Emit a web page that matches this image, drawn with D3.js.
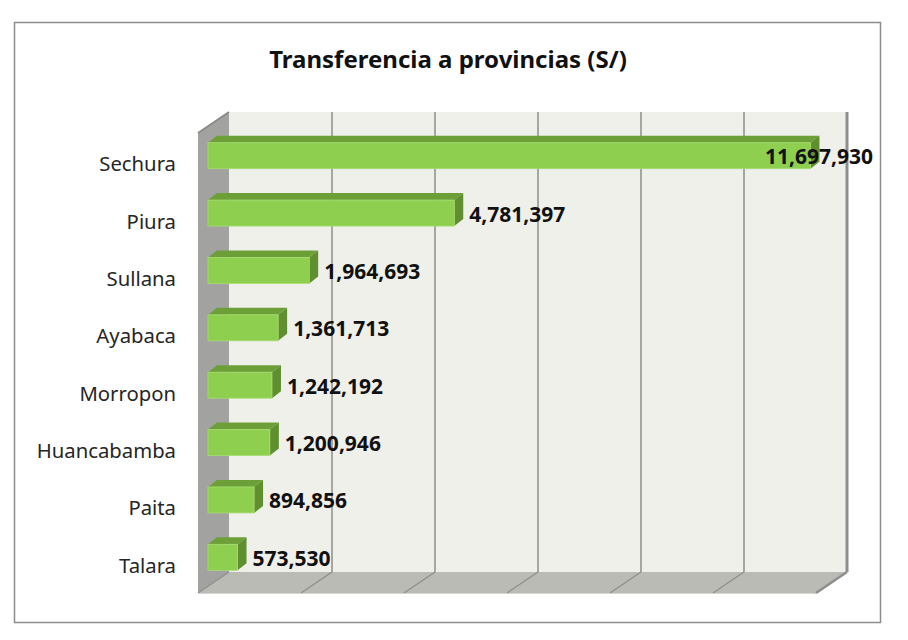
<!DOCTYPE html>
<html>
<head>
<meta charset="utf-8">
<script src="https://cdn.jsdelivr.net/npm/d3@7"></script>
<style>
  body { margin: 0; background: #fff; }
  text { font-family: "Noto Sans", "Open Sans", sans-serif; }
</style>
</head>
<body>
<div id="chart"></div>
<script>
var CATEGORIES = ["Sechura", "Piura", "Sullana", "Ayabaca", "Morropon", "Huancabamba", "Paita", "Talara"];
var VALUES = [11697930, 4781397, 1964693, 1361713, 1242192, 1200946, 894856, 573530];
var TICKS = [0, 2000000, 4000000, 6000000, 8000000, 10000000, 12000000];
var TITLE = "Transferencia a provincias (S/)";

var W = 908, H = 640;

// depth offset of the walls (front -> back)
var dX = 31, dY = -21;
// depth offset of each bar (front face -> top/back)
var bX = 9, bY = -7;

var svg = d3.select("#chart").append("svg")
    .attr("width", W)
    .attr("height", H);

// outer chart border
svg.append("rect")
    .attr("x", 14.5).attr("y", 22.5)
    .attr("width", 866).attr("height", 600)
    .attr("fill", "#fff")
    .attr("stroke", "#8c8c8c")
    .attr("stroke-width", 1.5);

svg.append("text")
    .attr("x", 448).attr("y", 68)
    .attr("text-anchor", "middle")
    .attr("font-size", 24)
    .attr("font-weight", "bold")
    .attr("fill", "#111")
    .text(TITLE);

// scales on the bars' front plane
var x = d3.scaleLinear().domain([0, 12000000]).range([208, 826]);
var y = d3.scaleBand().domain(CATEGORIES).range([134, 593]);

// front plane of the walls
var fx0 = 198, fyTop = 133, fyBot = 593;
function wx(v) { return x(v) - 10; }   // value -> front wall plane x
var fx1 = wx(12000000);

// back wall
svg.append("rect")
    .attr("x", fx0 + dX).attr("y", fyTop + dY)
    .attr("width", fx1 - fx0).attr("height", fyBot - fyTop)
    .attr("fill", "#eff0ea");

// side wall
svg.append("path")
    .attr("d", "M" + fx0 + "," + fyTop + "L" + (fx0 + dX) + "," + (fyTop + dY) +
        "L" + (fx0 + dX) + "," + (fyBot + dY) + "L" + fx0 + "," + fyBot + "Z")
    .attr("fill", "#a2a3a0");
svg.append("path")
    .attr("d", "M" + fx0 + "," + fyTop + "L" + (fx0 + dX) + "," + (fyTop + dY))
    .attr("stroke", "#8a8b88").attr("stroke-width", 2);

// floor
svg.append("path")
    .attr("d", "M" + fx0 + "," + fyBot + "L" + fx1 + "," + fyBot +
        "L" + (fx1 + dX) + "," + (fyBot + dY) + "L" + (fx0 + dX) + "," + (fyBot + dY) + "Z")
    .attr("fill", "#babbb5");

// gridlines on back wall and floor
svg.selectAll("line.grid")
    .data(TICKS.slice(1))
    .enter().append("line")
    .attr("class", "grid")
    .attr("x1", function (d) { return wx(d) + dX; })
    .attr("x2", function (d) { return wx(d) + dX; })
    .attr("y1", fyTop + dY)
    .attr("y2", fyBot + dY)
    .attr("stroke", "#8e8e8e")
    .attr("stroke-width", function (d, i) { return i == TICKS.length - 2 ? 3 : 1.5; });

svg.selectAll("line.fgrid")
    .data(TICKS)
    .enter().append("line")
    .attr("class", "fgrid")
    .attr("x1", function (d) { return wx(d) + dX; })
    .attr("x2", function (d) { return wx(d); })
    .attr("y1", fyBot + dY)
    .attr("y2", fyBot)
    .attr("stroke", "#8e8e8e")
    .attr("stroke-width", function (d, i) { return i == TICKS.length - 1 ? 2.5 : 1.3; });

// floor front edge
svg.append("line")
    .attr("x1", fx0).attr("x2", fx1)
    .attr("y1", fyBot + 0.5).attr("y2", fyBot + 0.5)
    .attr("stroke", "#d4d5d0").attr("stroke-width", 1);

// bars
var barH = 26;
function barTop(d) { return y(d) + y.bandwidth() / 2 - 7 - barH / 2; }

var bars = svg.selectAll("g.bar")
    .data(CATEGORIES)
    .enter().append("g")
    .attr("class", "bar");

// top face
bars.append("path")
    .attr("d", function (d, i) {
        var x0 = x(0), x1 = x(VALUES[i]), t = barTop(d);
        return "M" + x0 + "," + t + "L" + (x0 + bX) + "," + (t + bY) +
            "L" + (x1 + bX) + "," + (t + bY) + "L" + x1 + "," + t + "Z";
    })
    .attr("fill", "#6c9f38");

// right side face
bars.append("path")
    .attr("d", function (d, i) {
        var x1 = x(VALUES[i]), t = barTop(d);
        return "M" + x1 + "," + t + "L" + (x1 + bX) + "," + (t + bY) +
            "L" + (x1 + bX) + "," + (t + bY + barH) + "L" + x1 + "," + (t + barH) + "Z";
    })
    .attr("fill", "#5f8f2e");

// front face
bars.append("rect")
    .attr("x", x(0))
    .attr("y", function (d) { return barTop(d); })
    .attr("width", function (d, i) { return x(VALUES[i]) - x(0); })
    .attr("height", barH)
    .attr("fill", "#8fcf4f")
    .attr("stroke", "#a6dc70")
    .attr("stroke-width", 0.8);

// value labels
var fmt = d3.format(",");
var labelMax = 873;
bars.append("text")
    .attr("font-size", 21)
    .attr("font-weight", "bold")
    .attr("fill", "#111")
    .attr("y", function (d) { return barTop(d) + barH / 2 + 8.5; })
    .text(function (d, i) { return fmt(VALUES[i]); })
    .each(function (d, i) {
        var t = d3.select(this);
        var w = this.getComputedTextLength();
        var lx = x(VALUES[i]) + bX + 6;
        if (lx + w > labelMax) lx = labelMax - w;
        t.attr("x", lx);
    });

// category labels
svg.selectAll("text.cat")
    .data(CATEGORIES)
    .enter().append("text")
    .attr("class", "cat")
    .attr("x", 176)
    .attr("y", function (d) { return y(d) + y.bandwidth() / 2 + 8.5; })
    .attr("text-anchor", "end")
    .attr("font-size", 20.3)
    .attr("fill", "#262626")
    .text(function (d) { return d; });
</script>
</body>
</html>
